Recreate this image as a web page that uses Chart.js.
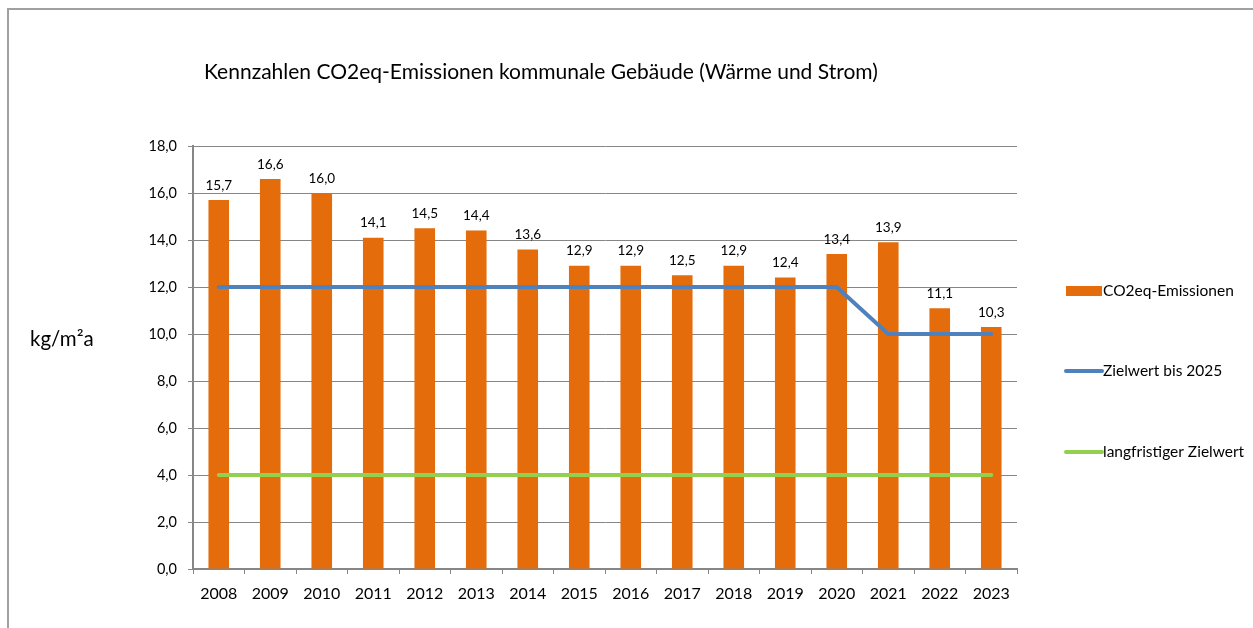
<!DOCTYPE html>
<html><head><meta charset="utf-8">
<script src="https://cdn.jsdelivr.net/npm/chart.js@4.4.1/dist/chart.umd.min.js"></script>
<style>
html,body{margin:0;padding:0;background:#fff;}
#wrap{position:relative;width:1253px;height:628px;overflow:hidden;}
#frame{position:absolute;left:7px;top:8px;width:1300px;height:700px;border-left:2px solid #a0a0a0;border-top:2px solid #a0a0a0;}
canvas{position:absolute;left:0;top:0;}
</style></head>
<body><div id="wrap"><div id="frame"></div><canvas id="c" width="1253" height="628"></canvas></div>
<script>
const years = ['2008','2009','2010','2011','2012','2013','2014','2015','2016','2017','2018','2019','2020','2021','2022','2023'];
const emissions = [15.7,16.6,16.0,14.1,14.5,14.4,13.6,12.9,12.9,12.5,12.9,12.4,13.4,13.9,11.1,10.3];
const target2025 = [12,12,12,12,12,12,12,12,12,12,12,12,12,10,10,10];
const longTerm = [4,4,4,4,4,4,4,4,4,4,4,4,4,4,4,4];
const yTicks = [0,2,4,6,8,10,12,14,16,18];
const titleText = 'Kennzahlen CO2eq-Emissionen kommunale Gebäude (Wärme und Strom)';
const yAxisTitle = 'kg/m²a';
const seriesNames = ['CO2eq-Emissionen','Zielwert bis 2025','langfristiger Zielwert'];

const FONT = 'Lato, "Noto Sans", sans-serif';
const fmt = v => Number(v).toFixed(1).replace('.', ',');

const extras = {
  id:'extras',
  afterDatasetsDraw(chart){
    const ctx = chart.ctx;
    const meta = chart.getDatasetMeta(0);
    ctx.save();
    ctx.fillStyle = '#000';
    ctx.font = '13.5px ' + FONT;
    ctx.textAlign = 'center';
    ctx.textBaseline = 'bottom';
    meta.data.forEach((el, i) => {
      ctx.fillText(fmt(emissions[i]), el.x, el.y - 8);
    });
    ctx.restore();
  },
  afterDraw(chart){
    const ctx = chart.ctx;
    const ca = chart.chartArea;
    ctx.save();
    ctx.fillStyle = '#000';
    ctx.textBaseline = 'middle';
    ctx.textAlign = 'left';
    ctx.font = '21px ' + FONT;
    ctx.fillText(titleText, 204, 72);
    ctx.font = '20.5px ' + FONT;
    ctx.fillText(yAxisTitle, 30, (ca.top + ca.bottom)/2 - 18);
    // legend
    const lx = ca.right + 48;
    const ys = [291, 371, 452];
    ctx.font = '15.5px ' + FONT;
    chart.data.datasets.forEach((ds, i) => {
      const y = ys[i];
      if (i === 0) {
        ctx.fillStyle = ds.backgroundColor;
        ctx.fillRect(lx + 1, y - 5, 36, 10);
      } else {
        ctx.strokeStyle = ds.borderColor;
        ctx.lineWidth = 4;
        ctx.lineCap = 'round';
        ctx.beginPath();
        ctx.moveTo(lx + 1, y);
        ctx.lineTo(lx + 37, y);
        ctx.stroke();
      }
      ctx.fillStyle = '#000';
      ctx.fillText(ds.label, lx + 38, y);
    });
    ctx.restore();
  }
};

new Chart(document.getElementById('c'), {
  data: {
    labels: years,
    datasets: [
      {type:'bar', label: seriesNames[0], data: emissions, backgroundColor:'#E46C0A', barPercentage:0.4, categoryPercentage:1, order:3},
      {type:'line', label: seriesNames[1], data: target2025, borderColor:'#4F81BD', backgroundColor:'#4F81BD', borderWidth:4, pointRadius:0, tension:0, order:1, borderCapStyle:'round'},
      {type:'line', label: seriesNames[2], data: longTerm, borderColor:'#92D050', backgroundColor:'#92D050', borderWidth:4, pointRadius:0, tension:0, order:2, borderCapStyle:'round'}
    ]
  },
  options: {
    responsive:false,
    animation:false,
    layout:{padding:{left:0, right:236, top:146, bottom:0}},
    plugins:{legend:{display:false}, title:{display:false}, tooltip:{enabled:false}},
    scales:{
      x:{
        offset:true,
        grid:{display:true, drawOnChartArea:false, drawTicks:true, tickLength:5, color:'#868686', offset:true},
        border:{display:true, color:'#868686', width:2},
        ticks:{color:'#000', font:{family:FONT, size:16}, padding:10, maxRotation:0},
        afterFit(s){ s.height = 59; }
      },
      y:{
        min:0, max:18,
        afterBuildTicks(s){ s.ticks = yTicks.map(v => ({value:v})); },
        grid:{color:'#868686', tickLength:5, drawTicks:true},
        border:{display:true, color:'#868686', width:2},
        ticks:{color:'#000', font:{family:FONT, size:14.5}, padding:11, callback: v => fmt(v)},
        afterFit(s){ s.width = 193; }
      }
    }
  },
  plugins:[extras]
});
</script></body></html>
